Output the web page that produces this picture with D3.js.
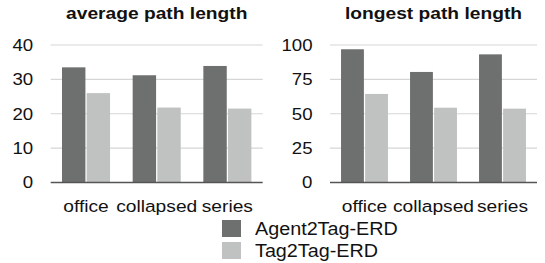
<!DOCTYPE html>
<html>
<head>
<meta charset="utf-8">
<script src="https://cdn.jsdelivr.net/npm/d3@7"></script>
<style>
  body { margin: 0; background: #fff; }
  text { font-family: "Liberation Sans", Arial, Helvetica, sans-serif; fill: #111; }
</style>
</head>
<body>
<div id="chartDiv"></div>
<script>
// data
var categories = ["office", "collapsed", "series"];
var seriesNames = ["Agent2Tag-ERD", "Tag2Tag-ERD"];
var avgAgent = [33.5, 31.2, 33.9];
var avgTag = [26.0, 21.8, 21.5];
var longAgent = [96.9, 80.4, 93.2];
var longTag = [64.4, 54.4, 53.7];
var avgTicks = [0, 10, 20, 30, 40];
var longTicks = [0, 25, 50, 75, 100];

var colors = ["#6e706f", "#bfc2c1"];

var outerWidth = 545, outerHeight = 263;
// the type in the original is a bit wider than Liberation Sans
var hScale = 1.13;

var svg = d3.select("#chartDiv")
    .append("svg")
    .attr("width", outerWidth)
    .attr("height", outerHeight);

function drawPanel(title, agent, tag, ticks, x0, x1) {
    var top = 45, bottom = 182.5;

    var x = d3.scaleBand()
        .domain(categories)
        .range([x0, x1])
        .paddingInner(0.32)
        .paddingOuter(0.16);

    var xs = d3.scaleBand()
        .domain(seriesNames)
        .range([0, x.bandwidth()])
        .paddingInner(0.05);

    var y = d3.scaleLinear()
        .domain([0, d3.max(ticks)])
        .range([bottom, top]);

    var g = svg.append("g");

    // gridlines
    g.selectAll(".grid")
        .data(ticks.slice(1))
        .enter().append("line")
        .attr("x1", x0).attr("x2", x1)
        .attr("y1", function(d) { return y(d); })
        .attr("y2", function(d) { return y(d); })
        .style("stroke", "#d6d6d6")
        .style("stroke-width", 1.2);

    // y axis labels
    var yAxis = d3.axisLeft(y)
        .tickValues(ticks)
        .tickSize(0);

    var yAxisGroup = g.append("g")
        .attr("transform", "translate(" + x0 + ",0)")
        .call(yAxis);
    yAxisGroup.select(".domain").remove();
    yAxisGroup.selectAll("text")
        .attr("x", 0)
        .attr("transform", "translate(-17.5,0) scale(" + hScale + ",1)")
        .style("font-size", "16.5px")
        .style("font-family", "'Liberation Sans', Arial, sans-serif")
        .style("fill", "#111");

    var rows = categories.map(function(c, i) { return {cat: c, vals: [agent[i], tag[i]]}; });

    g.selectAll(".grp")
        .data(rows)
        .enter().append("g")
        .attr("transform", function(d) { return "translate(" + x(d.cat) + ",0)"; })
        .selectAll("rect")
        .data(function(d) { return d.vals.map(function(v, j) { return {name: seriesNames[j], v: v, j: j}; }); })
        .enter().append("rect")
        .attr("x", function(d) { return xs(d.name); })
        .attr("width", xs.bandwidth())
        .attr("y", function(d) { return y(d.v); })
        .attr("height", function(d) { return y(0) - y(d.v); })
        .style("fill", function(d) { return colors[d.j]; });

    // baseline
    g.append("line")
        .attr("x1", x0).attr("x2", x1)
        .attr("y1", y(0)).attr("y2", y(0))
        .style("stroke", "#555")
        .style("stroke-width", 1.5);

    // x axis labels
    var xAxis = d3.axisBottom(x).tickSize(0);
    var xAxisGroup = g.append("g")
        .attr("transform", "translate(0," + y(0) + ")")
        .call(xAxis);
    xAxisGroup.select(".domain").remove();
    xAxisGroup.selectAll("text")
        .attr("y", 0)
        .attr("dy", null)
        .attr("transform", "translate(0,29) scale(" + hScale + ",1)")
        .style("font-size", "17px")
        .style("font-family", "'Liberation Sans', Arial, sans-serif")
        .style("fill", "#111");

    g.append("text")
        .attr("transform", "translate(" + ((x0 + x1) / 2) + ",18.5) scale(" + hScale + ",1)")
        .attr("text-anchor", "middle")
        .style("font-size", "17px")
        .style("font-weight", "bold")
        .text(title);
}

drawPanel("average path length", avgAgent, avgTag, avgTicks, 50.7, 262.7);
drawPanel("longest path length", longAgent, longTag, longTicks, 330, 537);

// legend
var legend = svg.append("g").attr("transform", "translate(222,220)");
var item = legend.selectAll(".item")
    .data(seriesNames)
    .enter().append("g")
    .attr("transform", function(d, i) { return "translate(0," + (i * 22) + ")"; });
item.append("rect")
    .attr("width", 19)
    .attr("height", 17)
    .style("fill", function(d, i) { return colors[i]; });
item.append("text")
    .attr("transform", "translate(33,15) scale(" + hScale + ",1)")
    .style("font-size", "17.5px")
    .text(function(d) { return d; });
</script>
</body>
</html>
